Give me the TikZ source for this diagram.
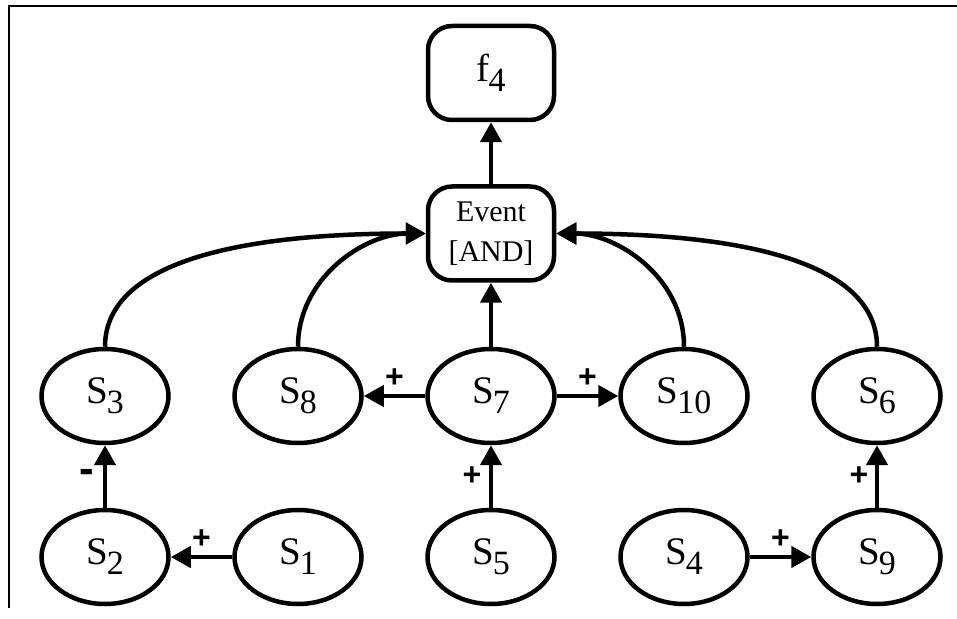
\documentclass[tikz,border=0pt]{standalone}
\usepackage{fontspec}
\setmainfont{Liberation Serif}
\newfontfamily\signfont{Liberation Sans}
\usetikzlibrary{arrows.meta,shapes.geometric}

% node label: large letter with a lowered index
\newcommand\stname[2]{\fontsize{39}{39}\selectfont #1\kern-1pt\raisebox{-10pt}{\fontsize{34}{34}\selectfont #2}}

\begin{document}
\begin{tikzpicture}[x=1pt,y=1pt,
  state/.style={ellipse, draw, line width=4.5pt, minimum width=127pt,
    minimum height=94pt, inner sep=0pt},
  boxnode/.style={rectangle, rounded corners=24pt, draw, line width=4.5pt,
    minimum width=126pt, minimum height=94pt, inner sep=0pt, align=center},
  link/.style={line width=4.5pt, -{Triangle[length=20pt,width=21pt]}},
  sign/.style={font=\signfont\bfseries\fontsize{32}{32}\selectfont, inner sep=0pt},
  negsign/.style={font=\signfont\bfseries\fontsize{44}{44}\selectfont, inner sep=0pt}
]
\useasboundingbox (0,0) rectangle (957,618);

% partial frame
\draw[line width=1.5pt] (9,10) -- (9,612) -- (957,612);

% top function and event gate
\node[boxnode] (f4) at (491,545) {\stname{f}{4}};
\node[boxnode, font=\fontsize{30}{40}\selectfont] (event) at (491,384.5) {Event\\{}[AND]};

% upper row of states
\node[state] (s3)  at (105,222) {\stname{S}{3}};
\node[state] (s8)  at (298,222) {\stname{S}{8}};
\node[state] (s7)  at (491,222) {\stname{S}{7}};
\node[state] (s10) at (684,222) {\stname{S}{10}};
\node[state] (s6)  at (877,222) {\stname{S}{6}};

% lower row of states
\node[state] (s2) at (105,61) {\stname{S}{2}};
\node[state] (s1) at (298,61) {\stname{S}{1}};
\node[state] (s5) at (491,61) {\stname{S}{5}};
\node[state] (s4) at (684,61) {\stname{S}{4}};
\node[state] (s9) at (877,61) {\stname{S}{9}};

% event output
\draw[link] (event) -- (f4);

% inputs of the AND gate
\draw[link] (s3.north) .. controls +(0,80) and +(-200,0) .. (event.west);
\draw[link] (s8.north) .. controls +(0,70) and +(-60,0) .. (event.west);
\draw[link] (s7) -- (event);
\draw[link] (s10.north) .. controls +(0,70) and +(60,0) .. (event.east);
\draw[link] (s6.north) .. controls +(0,80) and +(200,0) .. (event.east);

% signed influences
\draw[link] (s7) -- node[sign, midway, yshift=18pt] {+} (s8);
\draw[link] (s7) -- node[sign, midway, yshift=18pt] {+} (s10);
\draw[link] (s5) -- node[sign, midway, xshift=-19pt] {+} (s7);
\draw[link] (s2) -- node[negsign, midway, xshift=-18pt] {-} (s3);
\draw[link] (s1) -- node[sign, midway, yshift=18pt] {+} (s2);
\draw[link] (s4) -- node[sign, midway, yshift=18pt] {+} (s9);
\draw[link] (s9) -- node[sign, midway, xshift=-18pt] {+} (s6);
\end{tikzpicture}
\end{document}
